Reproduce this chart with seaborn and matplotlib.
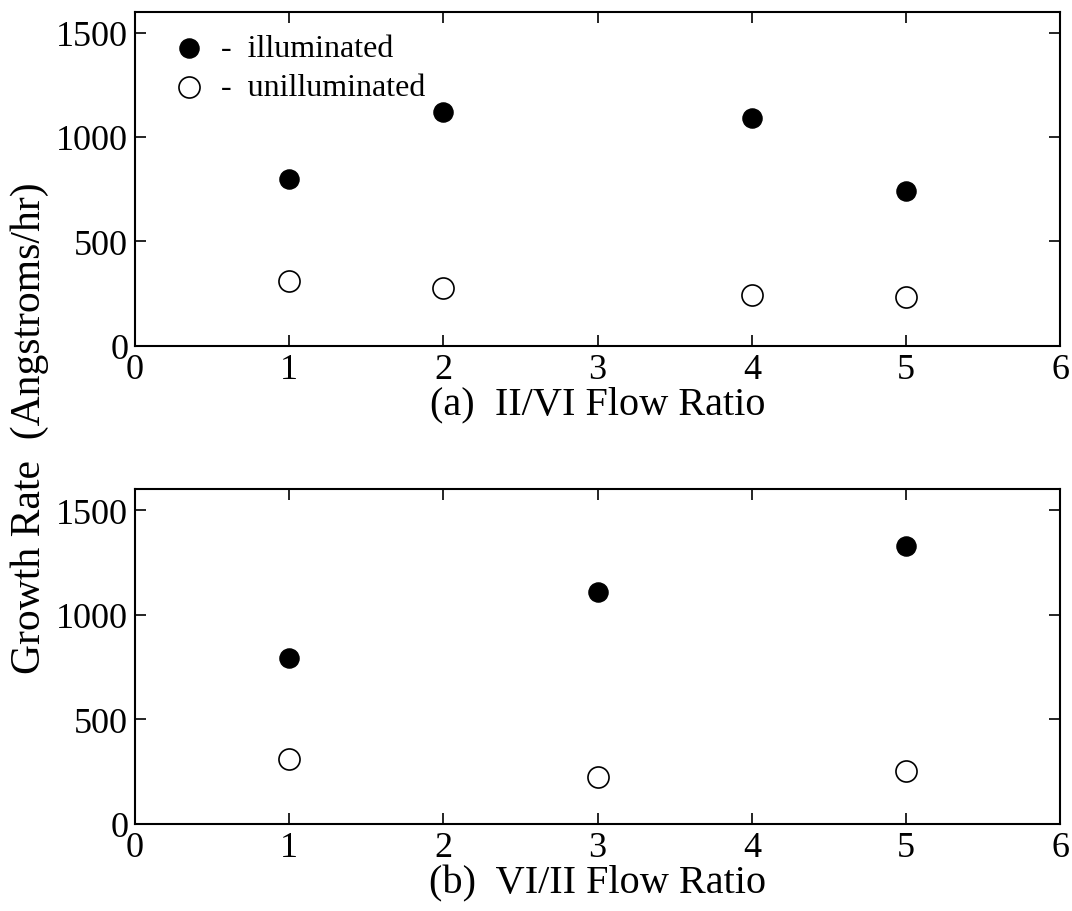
import matplotlib
matplotlib.use("Agg")
import matplotlib.pyplot as plt
import pandas as pd
import seaborn as sns

# panel (a): II/VI flow ratio
ratio_a = [1, 2, 4, 5]
illum_a = [800, 1120, 1090, 740]
unillum_a = [310, 275, 240, 235]

# panel (b): VI/II flow ratio
ratio_b = [1, 3, 5]
illum_b = [795, 1110, 1330]
unillum_b = [308, 222, 253]

xticks = [0, 1, 2, 3, 4, 5, 6]
yticks = [0, 500, 1000, 1500]

sns.set_style("ticks")
plt.rcParams["font.family"] = ["Liberation Serif", "DejaVu Serif"]
plt.rcParams["text.color"] = "black"
plt.rcParams["axes.labelcolor"] = "black"

fig = plt.figure(figsize=(10.72, 9.12), dpi=100)
ax_a = fig.add_axes([0.126, 0.620, 0.863, 0.366])
ax_b = fig.add_axes([0.126, 0.0955, 0.863, 0.367])


def draw(ax, x, illum, unillum, xlabel):
    df1 = pd.DataFrame({"x": x, "y": illum})
    df2 = pd.DataFrame({"x": x, "y": unillum})
    sns.scatterplot(data=df1, x="x", y="y", ax=ax, s=190, color="black",
                    edgecolor="black", linewidth=1, label="-  illuminated")
    sns.scatterplot(data=df2, x="x", y="y", ax=ax, s=230, facecolor="white",
                    edgecolor="black", linewidth=1.2, label="-  unilluminated")
    ax.set_xlim(0, 6)
    ax.set_ylim(0, 1600)
    ax.set_xticks(xticks)
    ax.set_yticks(yticks)
    ax.set_xlabel(xlabel, fontsize=29, labelpad=0)
    ax.set_ylabel("")
    ax.tick_params(direction="in", top=True, right=True, length=8,
                   width=1.2, labelsize=26, pad=5, colors="black")
    for sp in ax.spines.values():
        sp.set_linewidth(1.5)
        sp.set_color("black")
        sp.set_visible(True)


draw(ax_a, ratio_a, illum_a, unillum_a, "(a)  II/VI Flow Ratio")
draw(ax_b, ratio_b, illum_b, unillum_b, "(b)  VI/II Flow Ratio")

ax_a.legend(loc="upper left", frameon=False, fontsize=23, handletextpad=0.0,
            borderaxespad=0.3, labelspacing=0.3, markerscale=1.0)
ax_b.get_legend().remove()

fig.text(0.028, 0.531, "Growth Rate  (Angstroms/hr)", rotation=90,
         fontsize=30, ha="center", va="center")

fig.savefig("out.png", dpi=100)
